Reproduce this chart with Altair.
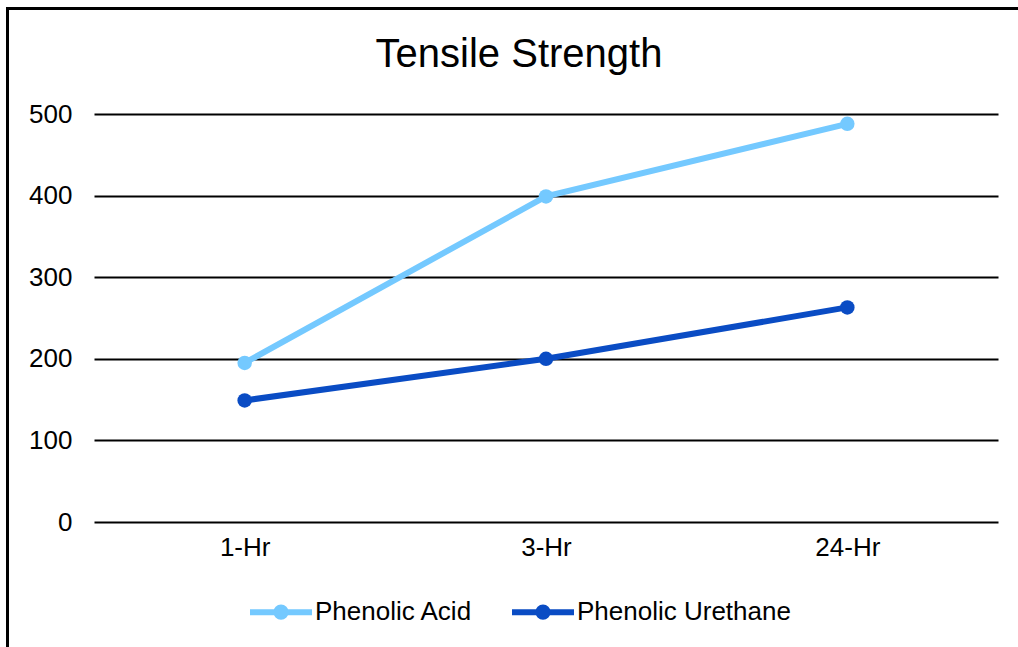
import altair as alt
import pandas as pd

categories = ["1-Hr", "3-Hr", "24-Hr"]
series_names = ["Phenolic Acid", "Phenolic Urethane"]
phenolic_acid = [195, 399, 488]
phenolic_urethane = [149, 200, 263]
y_ticks = [0, 100, 200, 300, 400, 500]
colors = ["#74C9FF", "#0A4CC4"]

rows = []
for c, v in zip(categories, phenolic_acid):
    rows.append({"time": c, "series": series_names[0], "value": v})
for c, v in zip(categories, phenolic_urethane):
    rows.append({"time": c, "series": series_names[1], "value": v})
df = pd.DataFrame(rows)

FONT = "Liberation Sans"

color = alt.Color(
    "series:N",
    scale=alt.Scale(domain=series_names, range=colors),
    legend=alt.Legend(
        title=None,
        orient="none",
        direction="horizontal",
        legendX=153,
        legendY=464,
        symbolType="M-1,0L1,0M-0.15,0A0.15,0.15,0,1,1,0.15,0A0.15,0.15,0,1,1,-0.15,0Z",
        symbolSize=3844,
        symbolStrokeWidth=6,
        labelFontSize=26,
        labelFont=FONT,
        labelColor="#000000",
        labelOffset=0,
        labelLimit=400,
        columnPadding=27,
    ),
)

x = alt.X(
    "time:N",
    sort=categories,
    scale=alt.Scale(domain=categories, padding=0.5),
    axis=alt.Axis(
        title=None,
        labelAngle=0,
        labelFontSize=26,
        labelFont=FONT,
        labelColor="#000000",
        labelPadding=12,
        ticks=False,
        domain=False,
        grid=False,
    ),
)

y = alt.Y(
    "value:Q",
    scale=alt.Scale(domain=[0, 500]),
    axis=alt.Axis(
        title=None,
        values=y_ticks,
        labelFontSize=26,
        labelFont=FONT,
        labelColor="#000000",
        labelPadding=22,
        ticks=False,
        domain=False,
        grid=True,
        gridColor="#000000",
        gridWidth=2,
        gridOpacity=1,
    ),
)

base = alt.Chart(df)
lines = base.mark_line(strokeWidth=6).encode(x=x, y=y, color=color)
points = base.mark_point(filled=True, size=210, opacity=1).encode(x=x, y=y, color=color)

frame = alt.Chart(pd.DataFrame({"f": [0]})).mark_rect(
    filled=False, stroke="#000000", strokeWidth=3
).encode(
    x=alt.value(-86.5), x2=alt.value(940), y=alt.value(-105.5), y2=alt.value(560)
)

chart = alt.layer(frame, lines, points).properties(
    width=904,
    height=408,
    padding={"left": 94, "top": 114, "right": 20, "bottom": 125},
    autosize=alt.AutoSizeParams(type="none"),
    title=alt.TitleParams(
        "Tensile Strength",
        font=FONT,
        fontSize=40,
        fontWeight="normal",
        color="#000000",
        anchor="middle",
        dx=-27,
        dy=72,
    ),
).configure_view(stroke=None)

chart.save("out.html", embed_options={"renderer": "svg", "actions": False})
